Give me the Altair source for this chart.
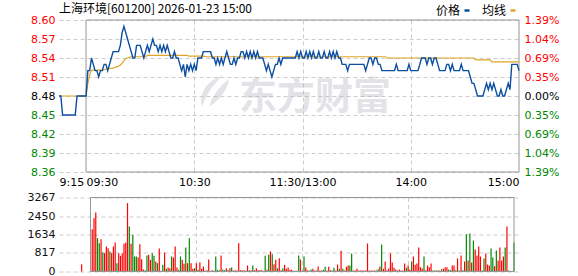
import json
import altair as alt
import pandas as pd

TITLE = "上海环境[601200] 2026-01-23 15:00"
SERIES = ["价格", "均线"]
WATERMARK = "东方财富"

# minute index: 0 = 9:15 ... 15 = 9:30 ... 135 = 11:30/13:00 ... 255 = 15:00
time_ticks = [0, 15, 75, 135, 195, 255]
time_labels = ["9:15", "09:30", "10:30", "11:30/13:00", "14:00", "15:00"]

price_ticks = [8.36, 8.39, 8.42, 8.45, 8.48, 8.51, 8.54, 8.57, 8.60]
pct_labels = ["1.39%", "1.04%", "0.69%", "0.35%", "0.00%", "0.35%", "0.69%", "1.04%", "1.39%"]  # top -> bottom
vol_ticks = [0, 817, 1634, 2450, 3267]
base_price = 8.48

# call-auction minutes 9:15..9:29
pre_price = [8.48, 8.48, 8.45, 8.45, 8.45, 8.45, 8.45, 8.45, 8.45, 8.45, 8.48, 8.48, 8.48, 8.48, 8.48]
pre_vol = [0, 0, 0, 0, 0, 0, 0, 0, 0, 0, 324, 0, 0, 0, 0]
pre_dir = "rrrrrrrrrrrrrrr"

# session minutes 9:30 .. 15:00 (241 points)
price = [
    8.48, 8.52, 8.52, 8.54, 8.53, 8.52, 8.52, 8.51, 8.52, 8.52,
    8.53, 8.53, 8.52, 8.53, 8.54, 8.55, 8.55, 8.55, 8.55, 8.56,
    8.58, 8.59, 8.58, 8.57, 8.56, 8.55, 8.54, 8.54, 8.56, 8.56,
    8.56, 8.55, 8.54, 8.55, 8.56, 8.55, 8.56, 8.57, 8.56, 8.56,
    8.55, 8.56, 8.55, 8.56, 8.55, 8.56, 8.55, 8.54, 8.54, 8.55,
    8.54, 8.54, 8.53, 8.52, 8.53, 8.51, 8.53, 8.52, 8.53, 8.52,
    8.53, 8.52, 8.54, 8.54, 8.54, 8.55, 8.55, 8.55, 8.55, 8.55,
    8.54, 8.54, 8.53, 8.54, 8.53, 8.54, 8.53, 8.54, 8.55, 8.54,
    8.53, 8.53, 8.54, 8.53, 8.54, 8.54, 8.55, 8.55, 8.54, 8.55,
    8.54, 8.55, 8.54, 8.55, 8.54, 8.55, 8.54, 8.54, 8.54, 8.53,
    8.52, 8.53, 8.52, 8.51, 8.52, 8.53, 8.53, 8.54, 8.53, 8.54,
    8.54, 8.54, 8.54, 8.54, 8.54, 8.54, 8.54, 8.55, 8.54, 8.55,
    8.54, 8.54, 8.55, 8.54, 8.55, 8.54, 8.55, 8.54, 8.54, 8.55,
    8.54, 8.54, 8.55, 8.54, 8.54, 8.55, 8.54, 8.55, 8.54, 8.55,
    8.54, 8.54, 8.53, 8.53, 8.53, 8.52, 8.53, 8.53, 8.53, 8.53,
    8.53, 8.53, 8.53, 8.53, 8.53, 8.52, 8.53, 8.54, 8.54, 8.53,
    8.54, 8.54, 8.53, 8.53, 8.52, 8.52, 8.52, 8.52, 8.52, 8.52,
    8.52, 8.52, 8.53, 8.52, 8.52, 8.52, 8.52, 8.52, 8.52, 8.53,
    8.52, 8.52, 8.52, 8.52, 8.52, 8.53, 8.54, 8.54, 8.54, 8.53,
    8.54, 8.54, 8.53, 8.54, 8.54, 8.53, 8.52, 8.52, 8.52, 8.52,
    8.53, 8.53, 8.52, 8.53, 8.52, 8.52, 8.52, 8.52, 8.53, 8.52,
    8.52, 8.52, 8.52, 8.51, 8.50, 8.50, 8.49, 8.48, 8.48, 8.48,
    8.48, 8.49, 8.50, 8.49, 8.50, 8.49, 8.50, 8.49, 8.48, 8.48,
    8.49, 8.48, 8.48, 8.49, 8.50, 8.49, 8.53, 8.53, 8.53, 8.53,
    8.52,
]

# average-price line vertices (minute index, value)
avg_t = [0, 15, 16, 17, 18, 24, 27, 30, 31, 32, 33, 34, 35, 36, 37, 38, 39, 40,
         48, 49, 71, 72, 80, 81, 181, 182, 230, 231, 239, 240, 255]
avg_v = [8.48, 8.48, 8.50, 8.513, 8.521, 8.521, 8.523, 8.524, 8.525, 8.526, 8.527,
         8.529, 8.532, 8.536, 8.539, 8.540, 8.541, 8.542, 8.542, 8.544, 8.544,
         8.543, 8.543, 8.542, 8.542, 8.540, 8.540, 8.537, 8.537, 8.534, 8.534]

vol = [
    0,
    1869, 2355, 2605, 1472, 1251, 1428, 839, 810, 1104, 1030,
    883, 810, 1104, 1281, 368, 810, 692, 810, 1222, 1281,
    3018, 1987, 1222, 1619, 662, 662, 618, 1207, 545, 88,
    59, 706, 736, 515, 810, 692, 442, 368, 1016, 29,
    294, 839, 118, 177, 147, 662, 618, 1104, 177, 74,
    662, 515, 339, 1060, 368, 1472, 368, 118, 147, 368,
    74, 412, 118, 221, 29, 59, 530, 29, 59, 44,
    662, 74, 59, 706, 88, 59, 147, 59, 147, 177,
    44, 59, 44, 1251, 59, 59, 59, 29, 265, 59,
    59, 265, 59, 147, 59, 59, 59, 29, 692, 74,
    736, 883, 765, 324, 515, 147, 589, 59, 147, 294,
    118, 177, 74, 74, 29, 29, 29, 706, 530, 29,
    662, 177, 59, 29, 88, 118, 44, 44, 221, 44,
    44, 74, 206, 44, 206, 59, 44, 162, 44, 309,
    118, 913, 118, 44, 206, 265, 265, 795, 44, 44,
    118, 44, 44, 44, 44, 44, 1236, 44, 44, 44,
    44, 44, 103, 221, 1192, 118, 442, 59, 132, 795,
    397, 162, 88, 44, 88, 44, 44, 353, 162, 265,
    88, 442, 662, 294, 353, 1060, 191, 132, 662, 59,
    265, 191, 353, 44, 44, 44, 59, 44, 103, 118,
    191, 191, 88, 59, 265, 265, 59, 574, 44, 706,
    59, 442, 1649, 486, 1678, 397, 1369, 972, 706, 1104,
    662, 44, 574, 795, 309, 265, 1016, 618, 236, 927,
    486, 1060, 486, 662, 1060, 1987, 44, 0, 0, 1281,
]
vol_dir = ("r" + "rrrggrgrrr" + "grrrgrrrrr" + "rgrgggrrrr" + "ggrrggrgrr" + "grgrrgrrrg"
           + "grrgrgrrgr" + "grrrrrrrrg" + "gggrggrgrg" + "rrrrrrgrrg" + "rgrrrrrggr"
           + "grgrrgrrgr" + "rrrrrrrgrr" + "grrrgrrgrr" + "rggrrrggrr" + "grgrrrggrr"
           + "rrrrrrrrrr" + "rggrgrrrrr" + "rrgrrrrrgr" + "rgrrrrrrgr" + "rrrgggrrgr"
           + "rrggrrgrgr" + "grgrgrgrrr" + "rggrrrggrg" + "rrrrgrgrrg")

# ---------------- styling ----------------
BLUE = "#0b4ea2"
ORANGE = "#e0a526"
RED = "#ff0000"
GREEN = "#008800"
GRID = "#cccccc"
FRAME = "#959595"
NUM_FONT = "DejaVu Sans"
CJK_FONT = "Noto Sans CJK SC"
W = 460
H_PRICE = 152
H_VOL = 74
LOGO = ("M0.55,-1 C-0.45,-0.65 -1,0.15 -0.75,1 C-0.55,0.35 -0.1,-0.35 0.55,-1 Z "
        "M0.95,-0.75 C0.3,-0.3 -0.15,0.35 -0.3,1 C0.35,0.55 0.85,-0.05 0.95,-0.75 Z")

# ---------------- data tables ----------------
n_pre = len(pre_price)
price_df = pd.DataFrame({"t": list(range(n_pre + len(price))), "v": pre_price + price, "series": SERIES[0]})
avg_df = pd.DataFrame({"t": avg_t, "v": avg_v, "series": SERIES[1]})
all_vol = pre_vol + vol
all_dir = list(pre_dir + vol_dir)[: len(all_vol)]
vol_df = pd.DataFrame({"t": list(range(len(all_vol))), "vol": all_vol, "dir": all_dir})
vol_df = vol_df[vol_df["vol"] > 0]

x_scale = alt.Scale(domain=[time_ticks[0], time_ticks[-1]], nice=False, zero=False)
y_scale = alt.Scale(domain=[price_ticks[0], price_ticks[-1]], nice=False, zero=False)
v_scale = alt.Scale(domain=[vol_ticks[0], vol_ticks[-1]], nice=False, zero=False)

hide_edge_grid = {"condition": {"test": f"datum.value <= {time_ticks[1]} || datum.value >= {time_ticks[-1]}",
                                "value": 0}, "value": 1}
price_color = {"condition": [
    {"test": f"datum.value > {base_price + 0.001}", "value": RED},
    {"test": f"datum.value < {base_price - 0.001}", "value": GREEN}], "value": "#000000"}
time_align = {"condition": [
    {"test": f"datum.value <= {time_ticks[1]}", "value": "left"},
    {"test": f"datum.value >= {time_ticks[-1]}", "value": "right"}], "value": "center"}
time_expr = (f"{json.dumps(time_labels, ensure_ascii=False)}"
             f"[indexof({json.dumps(time_ticks)}, datum.value)]")
pct_expr = (f"{json.dumps(pct_labels)}[round(({price_ticks[-1]} - datum.value) / "
            f"{round(price_ticks[1] - price_ticks[0], 4)})]")

x_axis_price = alt.Axis(values=time_ticks, labelExpr=time_expr, title=None, labelOverlap=False,
                        domain=False, ticks=False, labelPadding=4, labelFont=NUM_FONT, labelFontSize=11,
                        labelColor="#000", labelAlign=time_align, grid=True, gridColor=GRID,
                        gridDash=[4, 3], gridOpacity=hide_edge_grid)
y_axis_left = alt.Axis(values=price_ticks, format=".2f", title=None, domain=False, ticks=False,
                       labelPadding=4, labelFont=NUM_FONT, labelFontSize=11, labelColor=price_color,
                       grid=True, gridColor=GRID, gridDash=[4, 3], labelOverlap=False)
y_axis_right = alt.Axis(orient="right", values=price_ticks, labelExpr=pct_expr, title=None, domain=False,
                        ticks=False, labelPadding=5, labelFont=NUM_FONT, labelFontSize=11,
                        labelColor=price_color, grid=False, labelOverlap=False)

legend = alt.Legend(title=None, orient="none", legendX=402, legendY=-15.5, direction="horizontal",
                    labelFont=CJK_FONT, labelFontSize=12, labelColor="#000", symbolType="M-1,0H1",
                    symbolSize=25, symbolStrokeWidth=2.5, labelAlign="right",
                    labelOffset={"expr": "-13"}, columnPadding=6)
color_series = alt.Color("series:N", scale=alt.Scale(domain=SERIES, range=[BLUE, ORANGE]), legend=legend)

frame_price = alt.Chart(pd.DataFrame({"t0": [time_ticks[1]], "t1": [time_ticks[-1]],
                                      "v0": [price_ticks[0]], "v1": [price_ticks[-1]]})).mark_rect(
    fillOpacity=0, stroke=FRAME, strokeWidth=1).encode(
    x=alt.X("t0:Q", scale=x_scale, axis=x_axis_price), x2="t1",
    y=alt.Y("v0:Q", scale=y_scale, axis=None), y2="v1")

watermark = alt.Chart(pd.DataFrame({"w": [WATERMARK]})).mark_text(
    font=CJK_FONT, fontSize=38, fontWeight="bold", color="#b4b4be", opacity=0.36,
    align="left", baseline="middle").encode(
    x=alt.value(180), y=alt.value(77.5), text="w:N")
logo = alt.Chart(pd.DataFrame({"w": [WATERMARK]})).mark_point(
    shape=LOGO, size=1000, filled=True, color="#b4b4be", opacity=0.36, strokeWidth=0).encode(
    x=alt.value(155), y=alt.value(71))

avg_line = alt.Chart(avg_df).mark_line(strokeWidth=1.2).encode(
    x=alt.X("t:Q", scale=x_scale, axis=x_axis_price),
    y=alt.Y("v:Q", scale=y_scale, axis=y_axis_left),
    color=color_series)
price_line = alt.Chart(price_df).mark_line(strokeWidth=1.4).encode(
    x=alt.X("t:Q", scale=x_scale, axis=x_axis_price),
    y=alt.Y("v:Q", scale=y_scale, axis=None),
    color=color_series)
pct_axis = alt.Chart(pd.DataFrame({"v": price_ticks})).mark_point(opacity=0).encode(
    y=alt.Y("v:Q", scale=y_scale, axis=y_axis_right))

price_chart = alt.layer(watermark, logo, frame_price, avg_line, price_line, pct_axis).resolve_scale(
    y="shared").resolve_axis(y="independent").properties(
    width=W, height=H_PRICE,
    title=alt.TitleParams(TITLE, anchor="start", frame="group", font=CJK_FONT, fontSize=12,
                          fontWeight="normal", color="#000", offset=-11.5))

x_axis_vol = alt.Axis(values=time_ticks, labels=False, title=None, domain=False, ticks=False, grid=True,
                      gridColor=GRID, gridDash=[4, 3], gridOpacity=hide_edge_grid)
y_axis_vol = alt.Axis(values=vol_ticks, format="d", title=None, domain=False, ticks=False, labelPadding=4,
                      labelFont=NUM_FONT, labelFontSize=11, labelColor="#111", labelOverlap=False,
                      grid=True, gridColor=GRID, gridDash=[4, 3])

bars = alt.Chart(vol_df).mark_bar(size=1.2).encode(
    x=alt.X("t:Q", scale=x_scale, axis=x_axis_vol),
    y=alt.Y("vol:Q", scale=v_scale, axis=y_axis_vol),
    color=alt.Color("dir:N", scale=alt.Scale(domain=["r", "g"], range=[RED, GREEN]), legend=None))
frame_vol = alt.Chart(pd.DataFrame({"t0": [time_ticks[1]], "t1": [time_ticks[-1]],
                                    "v0": [vol_ticks[0]], "v1": [vol_ticks[-1]]})).mark_rect(
    fillOpacity=0, stroke=FRAME, strokeWidth=1).encode(
    x=alt.X("t0:Q", scale=x_scale, axis=x_axis_vol), x2="t1",
    y=alt.Y("v0:Q", scale=v_scale, axis=y_axis_vol), y2="v1")

vol_chart = alt.layer(bars, frame_vol).properties(width=W, height=H_VOL)

chart = alt.vconcat(price_chart, vol_chart, spacing=4.5).resolve_scale(color="independent").properties(
    padding={"left": 27, "top": 3, "right": 2, "bottom": 0}).configure_view(stroke=None)

chart.save("out.html", embed_options={"renderer": "svg", "actions": False})
